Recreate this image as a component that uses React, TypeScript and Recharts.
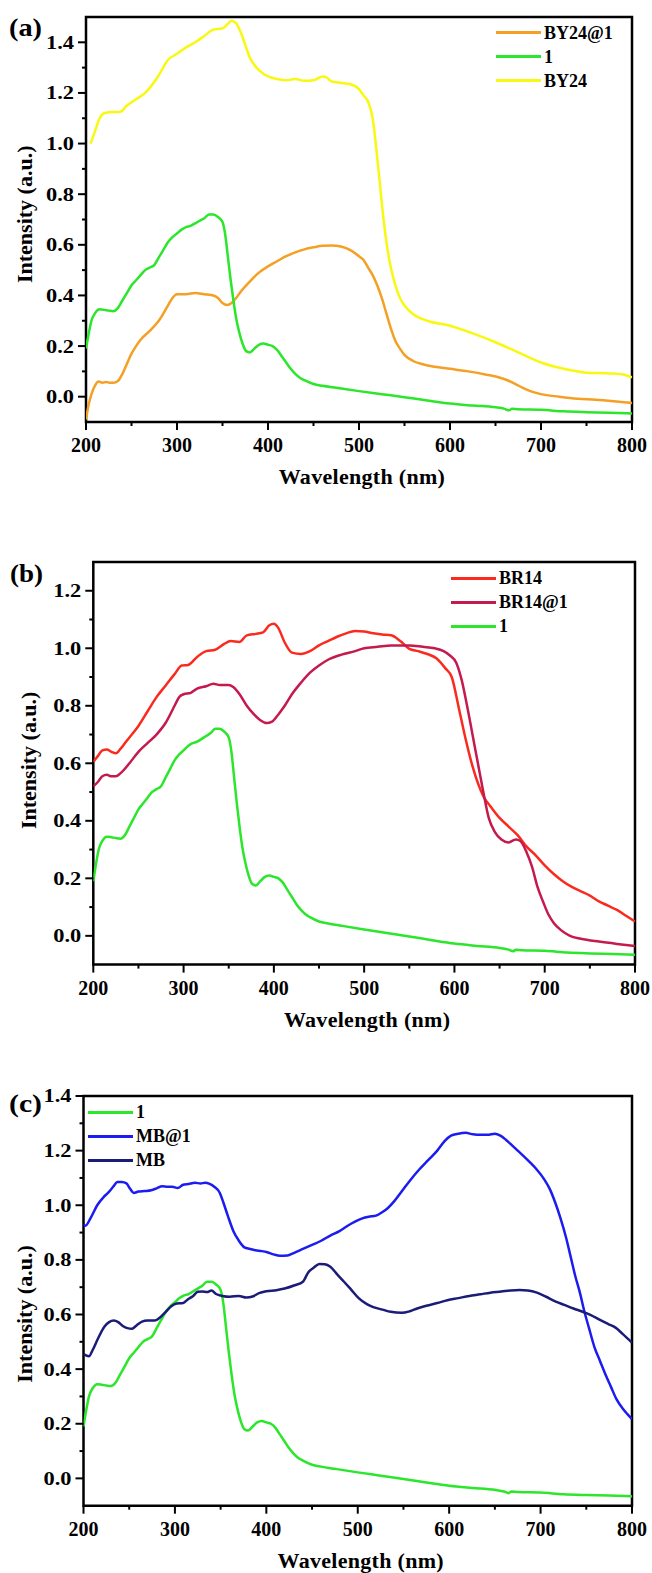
import React from 'react';
import { LineChart, Line, XAxis, YAxis, Legend, ReferenceArea, Label } from 'recharts';

const SERIF = '"Liberation Serif", "Times New Roman", Times, serif';

// ---- compound 1 (green, shared by all panels)
const cp1Wavelength = [200,203,206,210,215,220,225,230,235,240,245,250,255,260,265,270,275,280,285,290,295,300,305,310,315,320,325,330,335,340,345,350,353,356,359,362,365,368,372,376,380,385,390,395,400,405,410,415,420,425,430,435,440,450,460,475,500,525,550,575,600,625,650,660,665,668,675,700,725,750,775,800];
const cp1Intensity = [0.19,0.25,0.30,0.33,0.345,0.343,0.34,0.338,0.35,0.38,0.41,0.44,0.46,0.48,0.50,0.51,0.52,0.55,0.58,0.61,0.63,0.645,0.66,0.67,0.675,0.685,0.695,0.705,0.72,0.72,0.71,0.69,0.64,0.55,0.46,0.38,0.31,0.26,0.21,0.18,0.175,0.19,0.205,0.21,0.205,0.20,0.185,0.16,0.135,0.11,0.09,0.075,0.065,0.05,0.043,0.035,0.022,0.01,-0.002,-0.015,-0.027,-0.035,-0.042,-0.048,-0.054,-0.048,-0.05,-0.052,-0.058,-0.061,-0.063,-0.066];

// ---- BY24 (yellow)
const by24Wavelength = [205,210,215,220,230,237,245,255,265,270,280,290,300,310,320,330,340,350,355,360,365,370,375,380,385,390,400,410,420,430,440,450,460,465,470,480,490,500,505,510,515,519,523,527,531,535,540,545,550,560,575,600,625,650,675,700,725,750,775,790,800];
const by24Intensity = [1.0,1.05,1.10,1.12,1.125,1.125,1.15,1.175,1.20,1.22,1.27,1.33,1.355,1.38,1.40,1.425,1.45,1.455,1.47,1.485,1.475,1.44,1.39,1.34,1.31,1.29,1.265,1.255,1.25,1.255,1.248,1.25,1.265,1.26,1.245,1.24,1.235,1.215,1.19,1.165,1.10,0.98,0.84,0.70,0.59,0.51,0.44,0.39,0.36,0.325,0.30,0.28,0.25,0.215,0.175,0.135,0.11,0.095,0.092,0.088,0.076];

// ---- BY24@1 (orange)
const by24At1Wavelength = [200,203,206,210,214,218,222,226,230,235,240,245,250,255,260,270,280,290,295,300,310,320,330,340,345,350,355,360,365,370,380,390,400,410,420,430,440,450,460,470,480,490,500,505,510,515,520,525,530,535,540,545,550,560,570,580,600,620,640,655,665,672,680,690,700,720,740,760,780,800];
const by24At1Intensity = [-0.09,-0.03,0.01,0.045,0.06,0.055,0.058,0.055,0.055,0.062,0.09,0.13,0.17,0.20,0.225,0.26,0.30,0.36,0.39,0.405,0.405,0.41,0.405,0.40,0.39,0.37,0.362,0.37,0.39,0.415,0.455,0.49,0.515,0.535,0.555,0.57,0.582,0.59,0.596,0.597,0.593,0.58,0.555,0.54,0.51,0.48,0.44,0.39,0.33,0.27,0.22,0.19,0.165,0.14,0.128,0.12,0.11,0.10,0.087,0.075,0.062,0.05,0.035,0.02,0.01,0.0,-0.008,-0.012,-0.018,-0.025];

// ---- BR14 (red)
const br14Wavelength = [200,205,210,215,220,225,230,235,240,250,260,270,280,290,298,305,315,325,335,345,352,362,370,380,388,395,400,405,412,420,430,440,450,460,470,480,490,500,510,520,530,540,550,560,570,580,590,597,605,612,620,633,640,650,660,670,680,690,700,710,720,730,740,750,760,770,780,790,800];
const br14Intensity = [0.605,0.625,0.645,0.648,0.64,0.635,0.65,0.67,0.69,0.73,0.78,0.83,0.87,0.91,0.94,0.942,0.97,0.99,0.995,1.015,1.025,1.022,1.045,1.05,1.055,1.08,1.085,1.07,1.02,0.985,0.98,0.99,1.01,1.025,1.04,1.052,1.06,1.058,1.052,1.048,1.045,1.025,0.998,0.99,0.98,0.965,0.93,0.90,0.79,0.69,0.59,0.48,0.45,0.41,0.38,0.35,0.31,0.28,0.245,0.215,0.19,0.17,0.155,0.14,0.12,0.105,0.09,0.07,0.05];

// ---- BR14@1 (crimson)
const br14At1Wavelength = [200,205,210,215,220,225,230,240,250,260,270,280,290,295,300,308,315,325,333,340,350,355,362,370,378,385,392,398,405,412,420,430,440,450,460,475,490,500,515,530,550,565,578,588,595,602,608,614,620,626,632,638,645,652,660,668,673,680,686,692,698,704,710,718,728,740,760,780,800];
const br14At1Intensity = [0.52,0.535,0.555,0.56,0.555,0.555,0.565,0.60,0.64,0.67,0.70,0.74,0.80,0.83,0.84,0.845,0.86,0.868,0.877,0.872,0.872,0.865,0.84,0.80,0.77,0.75,0.74,0.745,0.77,0.80,0.84,0.88,0.915,0.94,0.96,0.978,0.99,1.0,1.005,1.01,1.01,1.005,1.0,0.99,0.975,0.95,0.89,0.80,0.70,0.60,0.50,0.41,0.36,0.335,0.325,0.335,0.33,0.29,0.24,0.17,0.12,0.075,0.045,0.02,0.0,-0.01,-0.02,-0.028,-0.035];

// ---- MB@1 (blue)
const mbAt1Wavelength = [200,202,208,215,222,227,233,237,242,247,251,255,260,267,274,280,286,292,297,303,309,315,322,328,333,338,343,349,353,358,364,370,376,382,388,395,401,408,415,423,430,440,450,460,470,480,489,497,505,512,520,527,533,540,548,557,567,577,587,595,602,610,618,626,634,642,650,656,662,668,675,682,689,696,704,710,716,722,728,733,738,743,748,753,759,765,771,777,783,790,795,800];
const mbAt1Intensity = [0.93,0.925,0.955,1.0,1.03,1.046,1.07,1.085,1.085,1.08,1.06,1.045,1.05,1.052,1.055,1.062,1.07,1.068,1.068,1.063,1.075,1.078,1.082,1.08,1.082,1.078,1.068,1.046,1.01,0.96,0.905,0.87,0.846,0.84,0.835,0.832,0.828,0.82,0.815,0.816,0.825,0.84,0.855,0.87,0.889,0.905,0.925,0.94,0.952,0.958,0.962,0.975,0.99,1.015,1.05,1.09,1.13,1.165,1.2,1.235,1.255,1.262,1.265,1.26,1.258,1.258,1.262,1.255,1.24,1.222,1.2,1.178,1.155,1.13,1.095,1.06,1.01,0.95,0.88,0.81,0.74,0.68,0.61,0.55,0.48,0.43,0.38,0.335,0.29,0.255,0.235,0.217];

// ---- MB (navy)
const mbWavelength = [200,206,210,216,223,228,233,238,243,248,253,258,264,270,278,284,290,296,302,309,314,320,325,330,335,340,345,352,360,370,378,385,392,400,411,420,431,440,446,452,458,464,470,478,485,493,501,510,517,527,536,548,557,565,575,587,598,610,622,634,645,657,667,677,686,696,706,716,726,736,746,755,765,774,782,790,800];
const mbIntensity = [0.455,0.447,0.47,0.513,0.556,0.572,0.578,0.572,0.558,0.55,0.548,0.56,0.574,0.578,0.578,0.59,0.61,0.63,0.64,0.642,0.655,0.668,0.683,0.684,0.682,0.688,0.675,0.668,0.665,0.668,0.662,0.666,0.678,0.685,0.689,0.695,0.707,0.72,0.755,0.772,0.785,0.784,0.775,0.745,0.72,0.69,0.66,0.638,0.627,0.618,0.61,0.606,0.612,0.622,0.632,0.642,0.652,0.66,0.668,0.674,0.68,0.684,0.688,0.69,0.688,0.68,0.665,0.648,0.635,0.622,0.61,0.598,0.58,0.565,0.552,0.528,0.497];

// ---- ticks
const xMajorTicks = [200, 300, 400, 500, 600, 700, 800];
const xMinorTicks = [250, 350, 450, 550, 650, 750];
const yMajorA = [0, 0.2, 0.4, 0.6, 0.8, 1.0, 1.2, 1.4];
const yMinorA = [0.1, 0.3, 0.5, 0.7, 0.9, 1.1, 1.3];
const yMajorB = [0, 0.2, 0.4, 0.6, 0.8, 1.0, 1.2];
const yMinorB = [0.1, 0.3, 0.5, 0.7, 0.9, 1.1];
const yMajorC = [0, 0.2, 0.4, 0.6, 0.8, 1.0, 1.2, 1.4];
const yMinorC = [0.1, 0.3, 0.5, 0.7, 0.9, 1.1, 1.3];

const GREEN = '#2BE62B';
const ORANGE = '#F4A025';
const YELLOW = '#F8F812';
const RED = '#FA2A1E';
const CRIMSON = '#C41A4E';
const BLUE = '#1C1CF0';
const NAVY = '#1B1B78';

const zip = (xs: number[], ys: number[]) => xs.map((x, i) => ({ x, y: ys[i] }));

const panels = [
  {
    letter: '(a)', letterX: 9, letterY: 36,
    plotTop: 16.7, plotHeight: 405, plotLeft: 86, plotRight: 632,
    yDomain: [-0.1, 1.5], yMajor: yMajorA, yMinor: yMinorA,
    yTitleX: 25, yTitleY: 214,
    legendX: 496, legendY: 32.7,
    series: [
      { name: 'BY24@1', color: ORANGE, wl: by24At1Wavelength, v: by24At1Intensity },
      { name: '1', color: GREEN, wl: cp1Wavelength, v: cp1Intensity },
      { name: 'BY24', color: YELLOW, wl: by24Wavelength, v: by24Intensity },
    ],
  },
  {
    letter: '(b)', letterX: 10, letterY: 582,
    plotTop: 561.7, plotHeight: 402.6, plotLeft: 93.3, plotRight: 635,
    yDomain: [-0.1, 1.3], yMajor: yMajorB, yMinor: yMinorB,
    yTitleX: 28, yTitleY: 760,
    legendX: 451, legendY: 578.3,
    series: [
      { name: 'BR14', color: RED, wl: br14Wavelength, v: br14Intensity },
      { name: 'BR14@1', color: CRIMSON, wl: br14At1Wavelength, v: br14At1Intensity },
      { name: '1', color: GREEN, wl: cp1Wavelength, v: cp1Intensity },
    ],
  },
  {
    letter: '(c)', letterX: 9, letterY: 1112,
    plotTop: 1096, plotHeight: 409.7, plotLeft: 83.5, plotRight: 632,
    yDomain: [-0.1, 1.4], yMajor: yMajorC, yMinor: yMinorC,
    yTitleX: 25, yTitleY: 1314,
    legendX: 88, legendY: 1112,
    series: [
      { name: '1', color: GREEN, wl: cp1Wavelength, v: cp1Intensity },
      { name: 'MB@1', color: BLUE, wl: mbAt1Wavelength, v: mbAt1Intensity },
      { name: 'MB', color: NAVY, wl: mbWavelength, v: mbIntensity },
    ],
  },
];

const XTick = (props: any) => {
  const { x, y, payload } = props;
  const v = payload.value;
  const major = xMajorTicks.indexOf(v) >= 0;
  return (
    <g>
      <line x1={x} x2={x} y1={y} y2={y + (major ? 8 : 4)} stroke="#000" strokeWidth={2} />
      {major && (
        <text x={x} y={y + 30} textAnchor="middle" fontFamily={SERIF} fontWeight="bold" fontSize={20} fill="#000">
          {v}
        </text>
      )}
    </g>
  );
};

const YTick = (props: any) => {
  const { x, y, payload } = props;
  const v = payload.value as number;
  const major = Math.abs(Math.round(v * 10)) % 2 === 0;
  return (
    <g>
      <line x1={x - (major ? 8 : 4)} x2={x} y1={y} y2={y} stroke="#000" strokeWidth={2} />
      {major && (
        <text x={x - 12} y={y} dy="0.36em" textAnchor="end" fontFamily={SERIF} fontWeight="bold" fontSize={18}
          textLength={28} lengthAdjust="spacingAndGlyphs" fill="#000">
          {v.toFixed(1)}
        </text>
      )}
    </g>
  );
};

function Panel({ cfg }: { cfg: any }) {
  const divTop = cfg.plotTop - 20;
  const chartH = 20 + cfg.plotHeight + 80;
  const margin = { top: 20, right: 652 - cfg.plotRight, bottom: 10, left: cfg.plotLeft - 60 };
  const yTicks = [...cfg.yMajor, ...cfg.yMinor].sort((a: number, b: number) => a - b);
  const xTicks = [...xMajorTicks, ...xMinorTicks].sort((a, b) => a - b);
  const xTitleX = (cfg.plotLeft + cfg.plotRight) / 2 + 3;
  const xTitleY = 20 + cfg.plotHeight + 62;
  const yTitleX = cfg.yTitleX;
  const yTitleY = cfg.yTitleY - divTop;
  const legendTop = cfg.legendY - 12 - divTop;

  const legendContent = () => (
    <div style={{ fontFamily: SERIF, fontWeight: 'bold', fontSize: 18, color: '#000' }}>
      {cfg.series.map((s: any) => (
        <div key={s.name} style={{ display: 'flex', alignItems: 'center', height: 24, whiteSpace: 'nowrap' }}>
          <span style={{ display: 'inline-block', width: 45, height: 3, background: s.color }} />
          <span style={{ marginLeft: 3, lineHeight: '24px' }}>{s.name}</span>
        </div>
      ))}
    </div>
  );

  return (
    <div style={{ position: 'absolute', left: 0, top: divTop, width: 652, height: chartH }}>
      <LineChart width={652} height={chartH} margin={margin}>
        <XAxis dataKey="x" type="number" domain={[200, 800]} ticks={xTicks} interval={0}
          tickSize={0} tickMargin={0} tickLine={false} axisLine={false} height={70}
          tick={XTick} allowDataOverflow>
          <Label content={() => (
            <text x={xTitleX} y={xTitleY} textAnchor="middle" fontFamily={SERIF} fontWeight="bold" fontSize={22}
              letterSpacing={0.3} fill="#000">
              Wavelength (nm)
            </text>
          )} />
        </XAxis>
        <YAxis type="number" domain={cfg.yDomain} ticks={yTicks} interval={0}
          tickSize={0} tickMargin={0} tickLine={false} axisLine={false} width={60}
          tick={YTick} allowDataOverflow>
          <Label content={() => (
            <text x={yTitleX} y={yTitleY} textAnchor="middle" dominantBaseline="central"
              transform={`rotate(-90 ${yTitleX} ${yTitleY})`}
              fontFamily={SERIF} fontWeight="bold" fontSize={22} fill="#000">
              Intensity (a.u.)
            </text>
          )} />
        </YAxis>
        <ReferenceArea x1={200} x2={800} y1={cfg.yDomain[0]} y2={cfg.yDomain[1]}
          fill="none" fillOpacity={0} stroke="#000" strokeWidth={2.5} ifOverflow="visible" />
        {cfg.series.map((s: any) => (
          <Line key={s.name} data={zip(s.wl, s.v)} dataKey="y" name={s.name} type="monotone"
            stroke={s.color} strokeWidth={2.5} dot={false} activeDot={false} isAnimationActive={false} />
        ))}
        <Legend layout="horizontal" verticalAlign="middle" align="center"
          wrapperStyle={{ top: legendTop, left: cfg.legendX, width: 200, height: 72 }}
          content={legendContent} />
      </LineChart>
    </div>
  );
}

export default function App() {
  return (
    <div style={{ position: 'absolute', left: 0, top: 0, width: 652, height: 1573, overflow: 'hidden', background: '#fff' }}>
      {panels.map((p) => (
        <Panel key={p.letter} cfg={p} />
      ))}
      <svg width={652} height={1573} style={{ position: 'absolute', left: 0, top: 0, pointerEvents: 'none' }}>
        {panels.map((p) => (
          <text key={p.letter} x={p.letterX} y={p.letterY} fontFamily={SERIF} fontWeight="bold" fontSize={25}
            textLength={33} lengthAdjust="spacingAndGlyphs" fill="#000">
            {p.letter}
          </text>
        ))}
      </svg>
    </div>
  );
}
